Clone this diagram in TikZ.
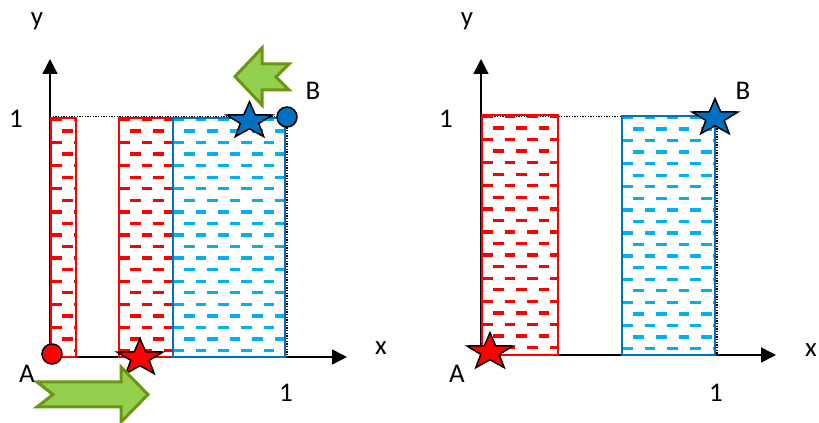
\documentclass[tikz,border=0pt]{standalone}
\usepackage{fontspec}
\setmainfont{Carlito}
\usetikzlibrary{arrows.meta, shapes.geometric}

\definecolor{redline}{RGB}{255,0,0}
\definecolor{blueline}{RGB}{0,112,192}
\definecolor{bluedash}{RGB}{0,176,240}
\definecolor{greenfill}{RGB}{146,208,80}
\definecolor{greenline}{RGB}{108,150,18}

% dashed box: left x, right x, top y, bottom y, colour of dashes, border style
\newcommand{\hatchcol}[6]{%
    \begin{scope}
        \clip (#1,#3) rectangle (#2,#4);
        \foreach \r in {0,...,20}{
            \pgfmathsetmacro{\rowy}{#3+1.5+11.55*\r}
            \pgfmathsetmacro{\rowph}{3.4*mod(\r,2)}
            \draw[#5, line width=1mm, dash pattern=on 3.2mm off 3.6mm, dash phase=\rowph mm]
                (#1,\rowy) -- (#2,\rowy);
        }
    \end{scope}
    \draw[#6] (#1,#3) rectangle (#2,#4);
}

\begin{document}
\begin{tikzpicture}[
            x=0.3mm, y=-0.3mm,
            axis/.style={line width=0.45mm, -{Triangle[length=4.5mm, width=4.5mm]}},
            guide/.style={line width=0.45mm, dash pattern=on 0.4mm off 0.4mm},
            redbox/.style={draw=redline, line width=0.6mm},
            bluebox/.style={draw=blueline, line width=0.6mm},
            pt/.style={star, star points=5, star point ratio=2.5, draw=black, line width=0.45mm,
                minimum size=11.6mm, inner sep=0pt, xscale=1.25, transform shape},
            dot/.style={circle, draw=black, line width=0.45mm, minimum size=6mm, inner sep=0pt},
            move/.style={draw=greenline, fill=greenfill, line width=0.9mm, line join=miter},
            lbl/.style={font=\fontsize{23}{27}\selectfont, inner sep=0pt, anchor=base}
        ]
            \useasboundingbox (0,0) rectangle (819,423);

            % Left panel
            \coordinate (oL) at (50,357);
            \coordinate (xL) at (347,357);
            \coordinate (yL) at (50,59);
            \coordinate (tL) at (287,116.5);
            \draw[axis] (oL) -- (xL);
            \draw[axis] (oL) -- (yL);
            \draw[guide] (oL |- tL) -- (tL) -- (tL |- oL);

            \hatchcol{51}{76}{118}{357}{redline}{redbox}
            \hatchcol{119}{173}{118}{357}{redline}{redbox}
            \hatchcol{173}{285}{118}{357}{bluedash}{bluebox}

            \node[dot, fill=redline] (a1) at (52,354) {};
            \node[dot, fill=blueline] (b1) at (287,117) {};
            \node[pt, fill=redline] (sa1) at (140,358) {};
            \node[pt, fill=blueline] (sb1) at (249.5,121) {};

            % Shift arrows
            \draw[move] (37,382) -- (53,394.5) -- (37,407) -- (121,407) -- (121,422)
                -- (148,394.5) -- (121,367) -- (121,382) -- cycle;
            \draw[move] (289,64) -- (276,77) -- (289,90) -- (262,90) -- (262,105)
                -- (235,76.5) -- (262,48) -- (262,64) -- cycle;

            \node[lbl] (ly1) at (37,26) {y};
            \node[lbl] (lo1) at (16,128) {1};
            \node[lbl] (lb1) at (313,100) {B};
            \node[lbl] (lx1) at (381,355) {x};
            \node[lbl] (la1) at (27,383) {A};
            \node[lbl] (lu1) at (286,402) {1};

            % Right panel
            \coordinate (oR) at (481,355);
            \coordinate (xR) at (776,355);
            \coordinate (yR) at (481,59);
            \coordinate (tR) at (717,116.5);
            \draw[axis] (oR) -- (xR);
            \draw[axis] (oR) -- (yR);
            \draw[guide] (oR |- tR) -- (tR) -- (tR |- oR);

            \hatchcol{482}{558}{115}{355}{redline}{redbox}
            \hatchcol{622}{715}{116}{355}{bluedash}{bluebox}

            \node[pt, fill=redline] (sa2) at (490,352) {};
            \node[pt, fill=blueline] (sb2) at (715,118) {};

            \node[lbl] (ly2) at (467,26) {y};
            \node[lbl] (lo2) at (446,128) {1};
            \node[lbl] (lb2) at (743,100) {B};
            \node[lbl] (lx2) at (811,357) {x};
            \node[lbl] (la2) at (457,383) {A};
            \node[lbl] (lu2) at (716,402) {1};
        \end{tikzpicture}
\end{document}
